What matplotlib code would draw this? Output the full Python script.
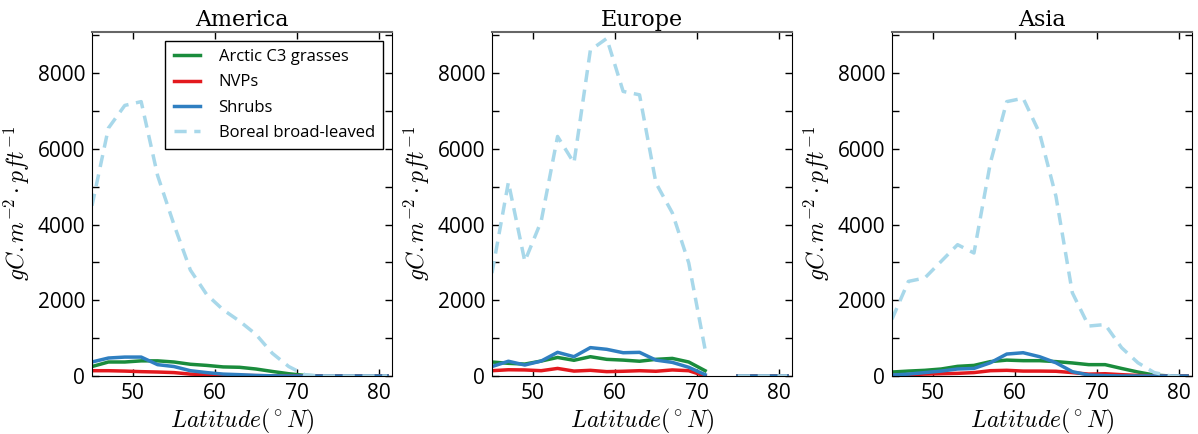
import numpy as np
import matplotlib
matplotlib.use("Agg")
import matplotlib.pyplot as plt
from matplotlib.ticker import MultipleLocator

plt.rcParams['mathtext.fontset'] = 'cm'
plt.rcParams['font.family'] = ['Open Sans', 'DejaVu Sans']

nan = np.nan
lat = [45, 47, 49, 51, 53, 55, 57, 59, 61, 63, 65, 67, 69, 71, 73, 75, 77, 79, 81]
regions = ["America", "Europe", "Asia"]
series_names = ["Arctic C3 grasses", "NVPs", "Shrubs", "Boreal broad-leaved"]

# America
am_grass = [250, 370, 370, 400, 400, 370, 310, 280, 240, 230, 185, 120, 60, 15, 0, 0, 0, 0, 0]
am_nvp = [140, 140, 130, 115, 105, 90, 50, 35, 25, 15, 10, 5, 0, 0, 0, 0, 0, 0, 0]
am_shrub = [370, 475, 500, 500, 300, 250, 140, 90, 50, 35, 15, 5, 0, 0, 0, 0, 0, 0, 0]
am_boreal = [4500, 6550, 7150, 7250, 5300, 4000, 2800, 2150, 1750, 1450, 1100, 600, 250, 30, 0, 0, 0, 0, 0]

# Europe
eu_grass = [370, 335, 315, 395, 490, 415, 510, 440, 420, 390, 440, 465, 370, 140, nan, 0, 0, 0, 0]
eu_nvp = [140, 165, 160, 140, 200, 130, 150, 115, 125, 140, 125, 160, 140, 0, nan, 0, 0, 0, 0]
eu_shrub = [250, 390, 290, 395, 625, 510, 750, 705, 615, 625, 420, 360, 230, 35, nan, 0, 0, 0, 0]
eu_boreal = [2720, 5120, 3030, 4090, 6330, 5630, 8610, 8920, 7520, 7430, 5100, 4310, 2990, 700, nan, 0, 0, 0, 0]

# Asia
as_grass = [105, 130, 150, 185, 255, 280, 380, 420, 405, 405, 380, 345, 300, 300, 200, 105, 25, 0, 0]
as_nvp = [15, 35, 50, 60, 70, 90, 140, 150, 130, 130, 125, 90, 50, 60, 35, 15, 0, 0, 0]
as_shrub = [25, 50, 90, 130, 185, 200, 350, 580, 615, 510, 350, 115, 25, 10, 0, 0, 0, 0, 0]
as_boreal = [1500, 2500, 2590, 3030, 3470, 3250, 5630, 7250, 7340, 6420, 4750, 2200, 1320, 1360, 750, 350, 90, 0, 0]

data = {
    "America": [am_grass, am_nvp, am_shrub, am_boreal],
    "Europe": [eu_grass, eu_nvp, eu_shrub, eu_boreal],
    "Asia": [as_grass, as_nvp, as_shrub, as_boreal],
}

colors = ['#1a8c3c', '#e3191e', '#2f7fc1', '#a8d8ea']

fig = plt.figure(figsize=(11.98, 4.34), dpi=100)

for i, region in enumerate(regions):
    ax = fig.add_axes([(92 + 400 * i) / 1198, 58 / 434, 300 / 1198, 344 / 434])
    vals = data[region]
    for k in range(3):
        ax.plot(lat, vals[k], color=colors[k], linewidth=2.5, label=series_names[k])
    ax.plot(lat, vals[3], color=colors[3], linewidth=2.5, dashes=(3.5, 2.2),
            label=series_names[3])

    ax.set_xlim(45, 81.6)
    ax.set_ylim(0, 9090)
    ax.set_xticks([50, 60, 70, 80])
    ax.yaxis.set_major_locator(MultipleLocator(2000))
    ax.yaxis.set_minor_locator(MultipleLocator(1000))
    ax.tick_params(which='both', direction='in', top=True, right=True,
                   length=5, width=1, labelsize=15, pad=5)
    for s in ['left', 'right', 'bottom']:
        ax.spines[s].set_color('black')
    ax.spines['top'].set_color('#666666')
    ax.spines['top'].set_linewidth(1.5)

    ax.set_title(region, fontsize=16, family='DejaVu Serif', pad=4)
    ax.set_xlabel(r'$Latitude(^\circ N)$', fontsize=17, labelpad=2)
    ax.set_ylabel(r'$gC.m^{-2}\cdot pft^{-1}$', fontsize=17, labelpad=4)

    if i == 0:
        leg = ax.legend(loc='upper right', fontsize=12, fancybox=False,
                        framealpha=1, edgecolor='black', handlelength=1.6,
                        handletextpad=1.1, borderpad=0.5, labelspacing=0.55,
                        borderaxespad=0, bbox_to_anchor=(0.97, 0.974))
        leg.get_frame().set_linewidth(1.0)

fig.savefig("out.png", dpi=100)
